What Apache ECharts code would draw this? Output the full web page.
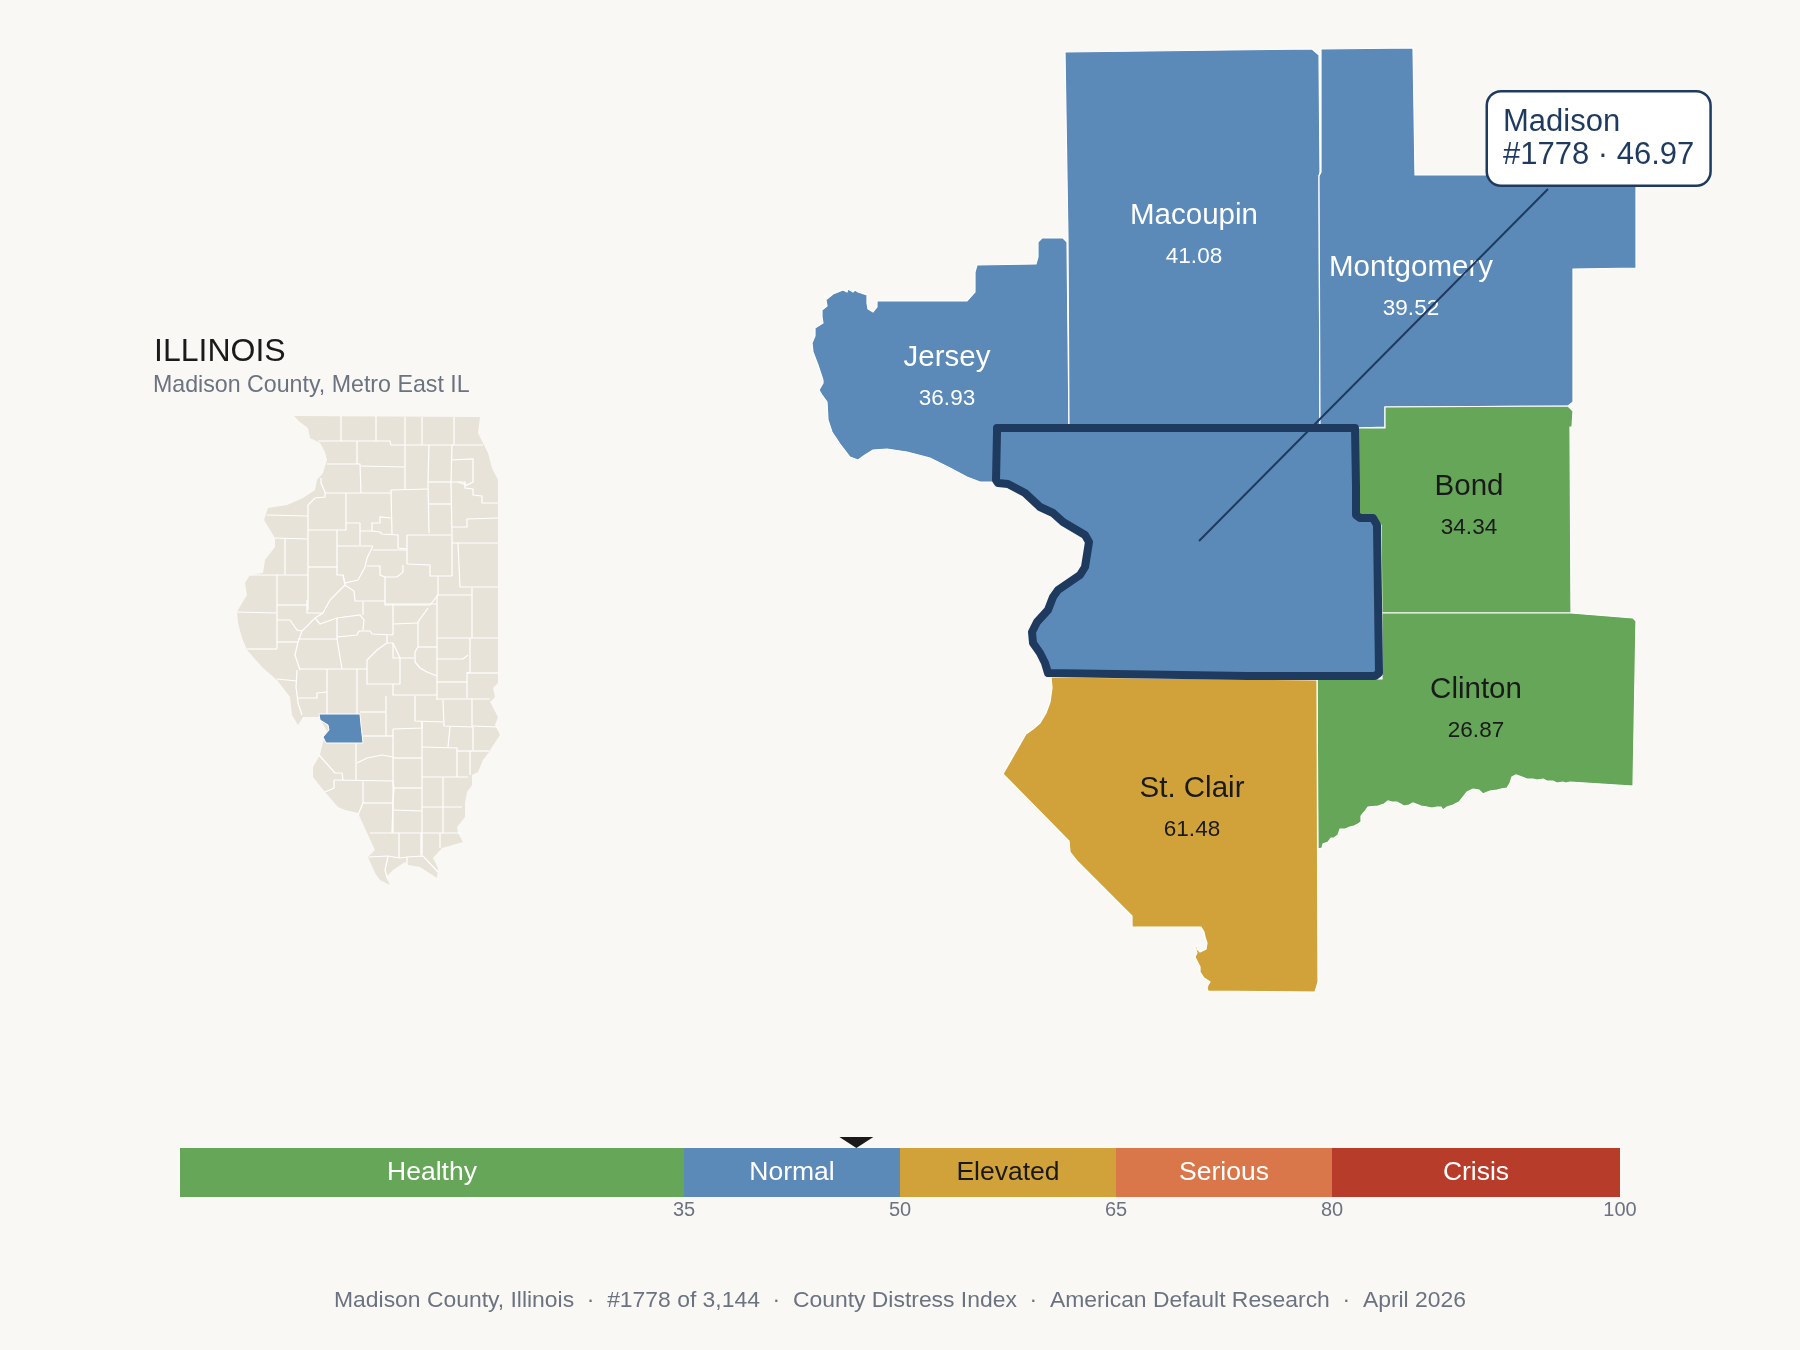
<!DOCTYPE html>
<html>
<head>
<meta charset="utf-8">
<title>Madison County, Illinois</title>
<style>
  html, body { margin: 0; padding: 0; background: #faf8f4; }
  #chart { width: 1800px; height: 1350px; }
</style>
<script src="https://cdn.jsdelivr.net/npm/echarts@6/dist/echarts.min.js"></script>
</head>
<body>
<div id="chart"></div>
<script>
// values
const countyNames = ["Jersey", "Macoupin", "Montgomery", "Bond", "Clinton", "St. Clair", "Madison"];
const countyScores = [36.93, 41.08, 39.52, 34.34, 26.87, 61.48, 46.97];
const bandNames = ["Healthy", "Normal", "Elevated", "Serious", "Crisis"];
const bandSpans = [35, 15, 15, 15, 20];
const bandEdges = [0, 35, 50, 65, 80, 100];
const tickValues = [35, 50, 65, 80, 100];
const madisonScore = 46.97;
const madisonRank = "#1778";

// outlines, in the units of the page map
const jerseyRing = [[1067,242],[1063,238],[1042,238],[1038,242],[1038,257],[1036,264],[977,265],[975,272],[975,292],[967,301],[877,301],[877,307],[873,312],[868,309],[867,303],[867,295],[858,292],[855,290],[853,292],[848,289],[847,292],[843,290],[833,294],[827,299],[825,298],[825,294],[826,300],[827,306],[822,310],[822,317],[823,323],[815,328],[815,336],[812,343],[813,352],[818,365],[823,380],[823,383],[819,390],[822,395],[827,402],[828,420],[832,432],[840,444],[850,457],[858,460],[865,455],[873,450],[887,449],[907,452],[930,458],[950,468],[967,477],[980,482],[996,482],[997,428],[1069,428]];
const macoupinRing = [[1065,52],[1312,49],[1319,55],[1320,172],[1319,176],[1320,428],[1069,428],[1068,240],[1067,178]];
const montgomeryRing = [[1321,49],[1413,48],[1415,175],[1636,175],[1636,268],[1573,269],[1573,402],[1568,406],[1385,407],[1385,427],[1357,428],[1320,428],[1319,176],[1321,172]];
const bondRing = [[1385,407],[1568,406],[1573,411],[1572,427],[1570,427],[1571,613],[1382,613],[1381,525],[1373,516],[1358,516],[1358,487],[1357,428],[1385,428]];
const clintonRing = [[1317,679],[1382,679],[1382,613],[1571,613],[1633,618],[1636,621],[1633,786],[1570,782],[1566,783],[1563,782],[1557,783],[1553,781],[1547,781],[1543,779],[1537,780],[1533,779],[1527,779],[1522,777],[1516,775],[1512,777],[1510,783],[1507,788],[1501,789],[1497,790],[1490,791],[1485,793],[1483,794],[1479,790],[1473,789],[1467,792],[1463,797],[1459,802],[1453,805],[1447,807],[1443,810],[1441,807],[1437,807],[1432,808],[1427,807],[1421,806],[1413,803],[1409,805],[1404,806],[1397,802],[1392,802],[1388,801],[1384,804],[1378,806],[1368,807],[1365,811],[1361,816],[1361,822],[1358,824],[1354,826],[1350,827],[1345,829],[1340,829],[1338,835],[1334,838],[1331,838],[1328,842],[1323,844],[1322,848],[1318,849]];
const stClairRing = [[1051,677],[1052,688],[1050,702],[1046,713],[1040,723],[1033,729],[1026,734],[1003,774],[1069,841],[1070,852],[1078,862],[1132,916],[1132,927],[1201,927],[1204,932],[1205,937],[1207,943],[1206,949],[1200,952],[1197,949],[1197,946],[1195,947],[1197,953],[1195,957],[1200,967],[1200,972],[1204,978],[1210,982],[1208,985],[1207,988],[1208,991],[1315,992],[1318,982],[1317,680]];
const madisonRing = [[997,428],[1355,428],[1356,487],[1356,515],[1360,518],[1373,518],[1377,525],[1379,673],[1375,676],[1247,676],[1048,673],[1045,663],[1040,653],[1033,643],[1032,632],[1037,622],[1048,610],[1053,597],[1058,590],[1080,575],[1085,567],[1089,542],[1085,535],[1063,522],[1053,513],[1040,507],[1025,493],[1008,484],[998,483],[996,480],[997,433]];
const labelSpots = [[947,377],[1194,235],[1411,287],[1469,506],[1476,709],[1192,808],[1190,550]];

const stateRing = [[294,416],[480,417],[478,433],[483,443],[488,453],[492,468],[498,480],[498,683],[493,688],[495,697],[490,702],[498,717],[495,725],[500,735],[492,747],[489,752],[483,760],[478,772],[472,775],[472,785],[467,792],[465,803],[465,817],[457,827],[458,833],[463,842],[442,848],[433,858],[438,868],[437,878],[420,867],[408,865],[405,862],[393,870],[386,877],[390,885],[380,880],[375,873],[368,857],[375,850],[368,835],[358,813],[345,810],[338,807],[325,792],[313,777],[313,767],[320,755],[323,742],[328,733],[319,717],[303,717],[298,725],[292,715],[290,697],[277,680],[263,668],[247,650],[242,638],[238,623],[237,612],[238,610],[247,595],[245,583],[250,575],[263,573],[265,560],[275,547],[275,538],[264,520],[268,508],[287,505],[303,498],[315,490],[317,480],[323,473],[327,460],[325,452],[320,443],[310,438],[308,428],[300,422]];
const insetMadisonRing = [[319,714],[360,714],[361,725],[363,743],[326,743],[323,737],[329,730],[328,725],[320,720]];
const stateCountyLines = [
  [[341,416],[341,441]], [[376,416],[376,441]], [[405,417],[405,445]], [[422,417],[422,445]], [[454,417],[454,445]],
  [[318,441],[390,441],[391,445],[483,445]], [[357,441],[357,464]], [[327,464],[360,464],[361,493]], [[361,466],[405,467]],
  [[405,445],[405,489]], [[429,445],[428,482],[429,533]], [[452,445],[451,482],[452,535]],
  [[451,460],[473,459],[473,482],[467,485],[458,482]],
  [[451,482],[465,482],[465,488],[473,489],[473,495],[482,496],[482,503],[498,503]],
  [[428,482],[451,482]], [[429,504],[451,504]], [[325,493],[391,493]], [[391,490],[428,489]], [[391,490],[392,534]],
  [[346,493],[346,523]], [[308,505],[315,498],[325,497],[325,492],[321,483],[321,478]], [[308,505],[308,610]],
  [[267,515],[308,516]], [[308,530],[337,530],[346,530],[346,523],[360,523]], [[337,530],[337,546]], [[360,523],[360,545]],
  [[337,546],[373,546]], [[360,531],[372,531],[372,523],[380,523],[380,517],[391,518]],
  [[372,531],[380,532],[382,534],[398,535],[398,548],[407,549]], [[407,535],[451,535]], [[407,535],[407,564]], [[452,535],[452,576]],
  [[452,527],[467,527],[467,519],[498,518]], [[452,543],[498,543]], [[458,543],[460,587],[498,587]],
  [[407,564],[430,565],[430,576],[452,576]], [[438,576],[438,595]],
  [[403,565],[403,572],[397,577],[385,577],[380,575],[380,566],[367,566]], [[373,550],[407,550]],
  [[373,546],[367,558],[365,567],[358,580],[345,583],[343,575],[337,575],[337,546]],
  [[308,567],[337,567]], [[285,538],[285,574]], [[275,538],[308,539]], [[250,575],[308,575]], [[277,575],[277,649]],
  [[343,575],[345,585],[333,597],[330,600],[323,613],[315,618],[302,631],[298,642],[295,655],[300,670]],
  [[345,585],[354,591],[355,601],[385,601]], [[385,577],[385,605],[430,605],[438,595],[472,595]], [[472,588],[472,638]],
  [[277,605],[307,605]], [[363,602],[363,615]], [[237,612],[277,613]], [[307,600],[307,613],[323,613]],
  [[277,620],[290,620],[297,630],[302,631]], [[315,618],[320,624],[337,618],[360,615],[364,620],[363,630]],
  [[277,642],[298,642]], [[247,649],[277,649]], [[298,639],[337,639]], [[337,618],[337,639],[342,669]],
  [[337,637],[357,635],[359,631],[370,631],[372,634],[393,635]], [[393,604],[393,635]], [[385,604],[437,604]], [[393,624],[418,623]],
  [[428,608],[418,622],[418,647]], [[437,595],[437,700]], [[437,638],[498,638]],
  [[470,638],[470,672],[467,673],[467,698]], [[437,659],[463,659],[468,655]], [[437,682],[467,682]], [[467,673],[498,673]],
  [[387,635],[387,643],[377,650],[367,660],[367,684],[400,684],[400,658],[393,643],[387,643]], [[393,643],[393,658],[414,658]],
  [[418,647],[437,647]], [[418,647],[415,652],[415,662],[420,668],[427,672],[437,676]],
  [[300,669],[367,669]], [[277,679],[297,681]], [[297,670],[296,687],[298,703],[302,715]], [[298,698],[317,698],[317,693],[327,692]],
  [[327,669],[327,714]], [[357,669],[357,714]], [[393,684],[393,695],[437,695]], [[386,696],[386,736]], [[360,712],[386,712]],
  [[415,696],[415,721],[443,722]], [[393,729],[422,728],[422,722]], [[443,700],[444,726],[472,727],[472,699],[490,699]],
  [[437,699],[472,699]], [[472,726],[498,727]], [[450,727],[448,747]], [[473,727],[473,750]], [[422,722],[422,855]],
  [[393,729],[393,833]], [[363,736],[393,736]], [[422,747],[457,748],[457,777]], [[457,751],[489,751]], [[470,751],[470,775]],
  [[393,758],[422,758]], [[356,743],[356,780]], [[357,763],[367,758],[382,755],[393,757]], [[319,755],[335,773],[342,773],[343,780]],
  [[334,780],[393,781]], [[334,780],[334,788],[325,792]], [[363,781],[363,803],[358,815]], [[363,803],[392,803]],
  [[393,781],[394,788],[393,802],[392,833]], [[393,788],[422,788]], [[422,777],[468,777]], [[443,777],[443,833]],
  [[393,810],[422,811]], [[422,807],[462,807]], [[370,833],[462,833]], [[399,833],[399,858]], [[421,833],[421,857]], [[440,833],[440,848]],
  [[369,857],[388,856],[400,858],[407,857],[423,856],[438,872]], [[388,857],[385,870],[387,877]], [[407,857],[407,865]]
];
const leaderLine = [[1199, 541], [1548, 189]];
const calloutSpot = [1488, 138.5];

const FONT = "'Liberation Sans', Arial, sans-serif";
const NAVY = "#1f3a5f";
const INK = "#1a1a1a";
const GREY = "#6b7280";
const bandColors = ["#66a659", "#5b89b8", "#d1a23a", "#d9774a", "#b83c2a"];
const bandInk = ["#ffffff", "#ffffff", INK, "#ffffff", "#ffffff"];

const polygon = (name, ring, cp) => ({
  type: "Feature",
  properties: cp ? { name, cp } : { name },
  geometry: { type: "Polygon", coordinates: [ring] },
});

const metroRings = [jerseyRing, macoupinRing, montgomeryRing, bondRing, clintonRing, stClairRing, madisonRing];
echarts.registerMap("metro", {
  type: "FeatureCollection",
  features: countyNames.map((n, i) => polygon(n, metroRings[i], labelSpots[i])),
});
echarts.registerMap("state", {
  type: "FeatureCollection",
  features: [polygon("Illinois", stateRing), polygon("Madison", insetMadisonRing)],
});

// map units are page pixels, y running down
const flat = { project: (p) => [p[0], p[1]], unproject: (p) => [p[0], p[1]] };
const pageBox = { left: 0, top: 0, right: 0, bottom: 0, boundingCoords: [[0, 0], [1800, 1350]], projection: flat, roam: false, silent: true };

const chart = echarts.init(document.getElementById("chart"));
chart.setOption({
  animation: false,
  backgroundColor: "#faf8f4",
  textStyle: { fontFamily: FONT },
  title: [
    { text: "ILLINOIS", left: 149, top: 331, textStyle: { fontSize: 32, fontWeight: "normal", color: INK, fontFamily: FONT } },
    { text: "Madison County, Metro East IL", left: 148, top: 369, textStyle: { fontSize: 23.2, fontWeight: "normal", color: GREY, fontFamily: FONT } },
    {
      text: "Madison County, Illinois  ·  #1778 of 3,144  ·  County Distress Index  ·  American Default Research  ·  April 2026",
      left: 895, top: 1284, textAlign: "center",
      textStyle: { fontSize: 22.9, fontWeight: "normal", color: GREY, fontFamily: FONT },
    },
  ],
  visualMap: {
    show: false,
    seriesIndex: 0,
    pieces: bandNames.map((n, i) => ({ min: bandEdges[i], max: bandEdges[i + 1], color: bandColors[i] })),
  },
  geo: {
    ...pageBox,
    map: "state",
    itemStyle: { areaColor: "#e8e3d8", borderColor: "#ffffff", borderWidth: 0 },
    regions: [{ name: "Madison", itemStyle: { areaColor: bandColors[1], borderColor: "#ffffff", borderWidth: 1 } }],
    emphasis: { disabled: true },
  },
  grid: { left: 180, right: 180, top: 1148, height: 49 },
  xAxis: {
    type: "value",
    min: 0,
    max: 100,
    splitLine: { show: false },
    axisLine: { show: false },
    axisTick: { show: false },
    axisLabel: { customValues: tickValues, fontSize: 20, color: GREY, margin: 3, fontFamily: FONT },
  },
  yAxis: { type: "category", data: ["index"], show: false },
  series: [
    {
      type: "map",
      map: "metro",
      ...pageBox,
      selectedMode: false,
      emphasis: { disabled: true },
      itemStyle: { borderColor: "#ffffff", borderWidth: 1.2 },
      label: {
        show: true,
        formatter: (p) => `{a|${p.name}}\n{b|${p.value}}`,
        rich: {
          a: { fontSize: 29.5, lineHeight: 44, fontFamily: FONT },
          b: { fontSize: 22.5, lineHeight: 38, fontFamily: FONT },
        },
      },
      data: countyNames.map((name, i) => {
        const light = countyScores[i] >= bandEdges[1] && countyScores[i] < bandEdges[2];
        const item = {
          name,
          value: countyScores[i],
          label: { color: light ? "#ffffff" : INK, rich: { a: { color: light ? "#ffffff" : INK }, b: { color: light ? "#ffffff" : INK } } },
        };
        if (name === "Madison") {
          item.label = { show: false };
          item.itemStyle = { borderColor: NAVY, borderWidth: 8, borderJoin: "round" };
        }
        return item;
      }),
    },
    {
      type: "lines",
      coordinateSystem: "geo",
      polyline: true,
      silent: true,
      z: 3,
      lineStyle: { color: "#ffffff", width: 1.2, opacity: 1 },
      data: stateCountyLines.map((coords) => ({ coords })),
    },
    {
      type: "lines",
      coordinateSystem: "geo",
      polyline: true,
      silent: true,
      z: 8,
      lineStyle: { color: NAVY, width: 2, opacity: 1 },
      data: [{ coords: leaderLine }],
    },
    {
      type: "scatter",
      coordinateSystem: "geo",
      silent: true,
      z: 9,
      symbol: "circle",
      symbolSize: 1,
      itemStyle: { color: "rgba(0,0,0,0)", opacity: 1 },
      label: {
        show: true,
        position: "inside",
        formatter: `Madison\n${madisonRank} · ${madisonScore}`,
        align: "left",
        fontSize: 31,
        lineHeight: 33,
        color: NAVY,
        fontFamily: FONT,
        backgroundColor: "#ffffff",
        borderColor: NAVY,
        borderWidth: 2.5,
        borderRadius: 13,
        padding: [13, 15, 13, 15],
      },
      data: [calloutSpot],
    },
    ...bandNames.map((name, i) => ({
      type: "bar",
      name,
      stack: "scale",
      barWidth: "100%",
      silent: true,
      itemStyle: { color: bandColors[i] },
      label: { show: true, position: "inside", formatter: name, fontSize: 26.5, color: bandInk[i], fontFamily: FONT },
      data: [bandSpans[i]],
    })),
    {
      type: "scatter",
      silent: true,
      z: 6,
      symbol: "triangle",
      symbolRotate: 180,
      symbolSize: [34, 11],
      symbolOffset: [0, -30],
      itemStyle: { color: INK, opacity: 1 },
      data: [[madisonScore, "index"]],
    },
  ],
});

window.onresize = function () {
  chart.resize();
};
</script>
</body>
</html>
